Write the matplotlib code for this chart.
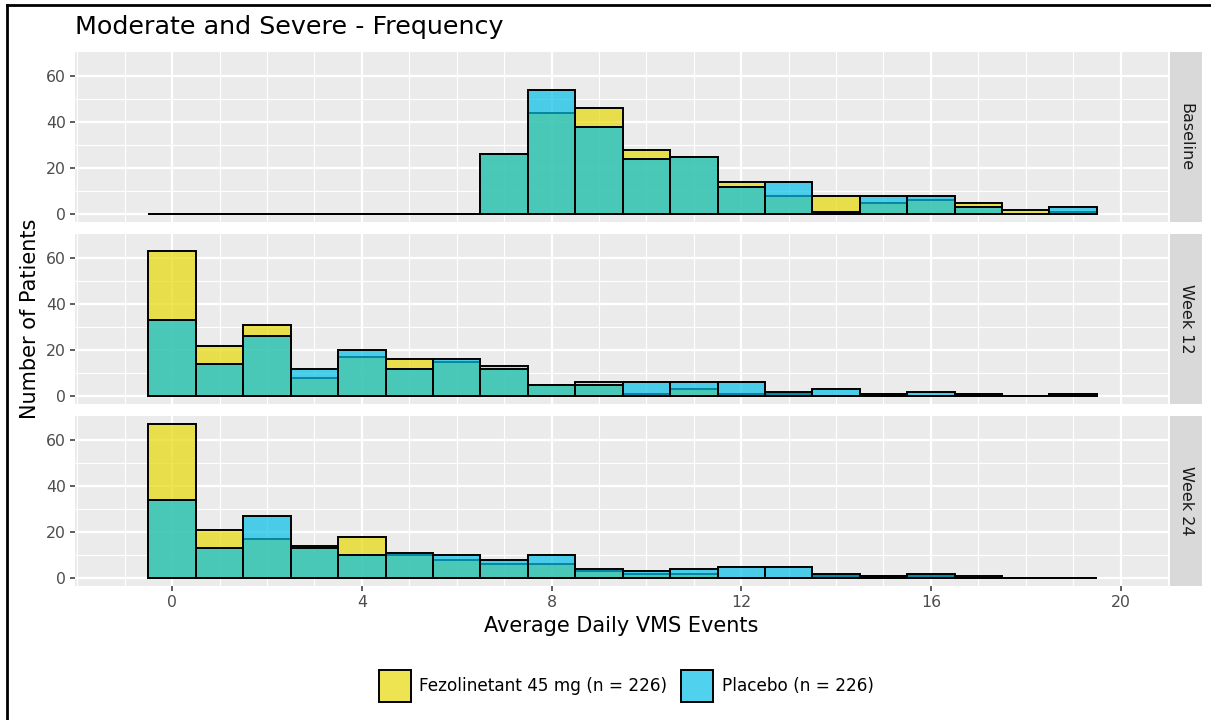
import numpy as np
import matplotlib.pyplot as plt
from matplotlib.patches import Patch
from matplotlib.lines import Line2D

# histogram bins: average daily VMS events 0..19 (width 1)
bins = list(range(20))
panels = ["Baseline", "Week 12", "Week 24"]

# counts per bin
fezo_baseline = [0, 0, 0, 0, 0, 0, 0, 26, 44, 46, 28, 25, 14, 8, 8, 5, 6, 5, 2, 1]
plac_baseline = [0, 0, 0, 0, 0, 0, 0, 26, 54, 38, 24, 25, 12, 14, 1, 8, 8, 3, 0, 3]
fezo_week12 = [63, 22, 31, 8, 17, 16, 15, 13, 5, 6, 1, 3, 1, 1, 0, 1, 0, 1, 0, 1]
plac_week12 = [33, 14, 26, 12, 20, 12, 16, 12, 5, 5, 6, 6, 6, 2, 3, 1, 2, 1, 0, 1]
fezo_week24 = [67, 21, 17, 14, 18, 10, 8, 6, 6, 3, 2, 2, 0, 0, 1, 1, 1, 1, 0, 0]
plac_week24 = [34, 13, 27, 13, 10, 11, 10, 8, 10, 4, 3, 4, 5, 5, 2, 1, 2, 0, 0, 0]

fezo = [fezo_baseline, fezo_week12, fezo_week24]
plac = [plac_baseline, plac_week12, plac_week24]

x_ticks = [0, 4, 8, 12, 16, 20]
y_ticks = [0, 20, 40, 60]
fezo_label = "Fezolinetant 45 mg (n = 226)"
plac_label = "Placebo (n = 226)"

a = 0.7
yellow = (0.906, 0.847, 0.024, a)
blue = (0.024, 0.753, 0.906, a)

W, H = 1211, 720
fig = plt.figure(figsize=(W / 100, H / 100), dpi=100)

def fx(px):
    return px / W

def fy(py):
    return 1 - py / H

left, right = 75, 1168
tops = [52, 234, 416]
ph = 170

for i in range(3):
    ax = fig.add_axes([fx(left), fy(tops[i] + ph), fx(right - left), ph / H])
    ax.set_facecolor("#EBEBEB")
    for s in ax.spines.values():
        s.set_visible(False)
    ax.set_xlim(-2.05, 21.0)
    ax.set_ylim(-3.35, 70.35)
    # grid
    for v in np.arange(-2, 22, 1):
        ax.axvline(v, color="white", lw=1.6 if v % 4 == 0 else 0.8, zorder=0)
    for v in [10, 30, 50]:
        ax.axhline(v, color="white", lw=0.8, zorder=0)
    for v in y_ticks:
        ax.axhline(v, color="white", lw=1.6, zorder=0)

    ax.bar(bins, fezo[i], width=1, facecolor=yellow, edgecolor="black", lw=1.4, zorder=2)
    ax.bar(bins, plac[i], width=1, facecolor=blue, edgecolor="black", lw=1.4, zorder=3)

    ax.set_yticks(y_ticks)
    ax.set_xticks(x_ticks)
    ax.tick_params(colors="#333333", labelcolor="#4D4D4D", labelsize=11.3,
                   length=3.5, width=1.1, pad=3)
    if i < 2:
        ax.tick_params(axis="x", length=0, labelbottom=False)

    # facet strip on the right
    sax = fig.add_axes([fx(1170), fy(tops[i] + ph), fx(32), ph / H])
    sax.set_facecolor("#D9D9D9")
    sax.set_xticks([])
    sax.set_yticks([])
    for s in sax.spines.values():
        s.set_visible(False)
    sax.text(0.5, 0.5, panels[i], rotation=-90, ha="center", va="center",
             fontsize=11.5, color="#1A1A1A", transform=sax.transAxes)

fig.text(fx(75), fy(27), "Moderate and Severe - Frequency", fontsize=18.3,
         ha="left", va="center", color="black")
fig.text(fx(30), fy(319), "Number of Patients", rotation=90, fontsize=15,
         ha="center", va="center", color="black")
fig.text(fx(621), fy(626), "Average Daily VMS Events", fontsize=15,
         ha="center", va="center", color="black")

handles = [Patch(facecolor=yellow, edgecolor="black", lw=1.4, label=fezo_label),
           Patch(facecolor=blue, edgecolor="black", lw=1.4, label=plac_label)]
fig.legend(handles=handles, loc="center", bbox_to_anchor=(fx(626), fy(686)), ncol=2,
           frameon=False, fontsize=12.2, handlelength=1.9, handleheight=2.6,
           handletextpad=0.5, columnspacing=0.8)

# page border (left and top)
fig.add_artist(Line2D([fx(7), fx(7)], [0, fy(5)], color="black", lw=2))
fig.add_artist(Line2D([fx(7), 1], [fy(5), fy(5)], color="black", lw=2))

fig.savefig("out.png", dpi=100)
